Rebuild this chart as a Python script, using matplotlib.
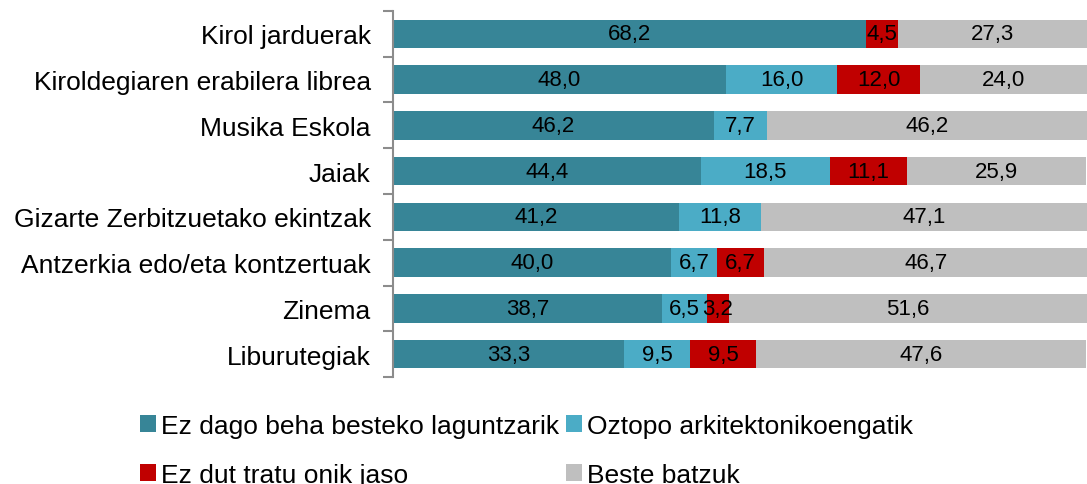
import numpy as np
import matplotlib.pyplot as plt

plt.rcParams['font.family'] = ['Liberation Sans', 'DejaVu Sans']

categories = ['Kirol jarduerak', 'Kiroldegiaren erabilera librea', 'Musika Eskola', 'Jaiak',
              'Gizarte Zerbitzuetako ekintzak', 'Antzerkia edo/eta kontzertuak', 'Zinema', 'Liburutegiak']
series_names = ['Ez dago beha besteko laguntzarik', 'Oztopo arkitektonikoengatik',
                'Ez dut tratu onik jaso', 'Beste batzuk']
laguntza = [68.2, 48.0, 46.2, 44.4, 41.2, 40.0, 38.7, 33.3]
oztopo = [0, 16.0, 7.7, 18.5, 11.8, 6.7, 6.5, 9.5]
tratu = [4.5, 12.0, 0, 11.1, 0, 6.7, 3.2, 9.5]
beste = [27.3, 24.0, 46.2, 25.9, 47.1, 46.7, 51.6, 47.6]
colors = ['#378597', '#4BACC6', '#C00000', '#BFBFBF']

fig = plt.figure(figsize=(10.87, 4.85), dpi=100)
ax = fig.add_axes([0.3616, 0.2206, 0.6384, 0.7547])

y = np.arange(len(categories))
left = np.zeros(len(categories))
handles = []
for name, vals, c in zip(series_names, [laguntza, oztopo, tratu, beste], colors):
    vals = np.array(vals)
    h = ax.barh(y, vals, left=left, height=0.62, color=c, label=name)
    handles.append(h)
    for yi, l, v in zip(y, left, vals):
        if v > 0:
            ax.text(l + v / 2, yi, f'{v:.1f}'.replace('.', ','), ha='center', va='center',
                    fontsize=16, color='black')
    left += vals

ax.set_xlim(0, 100)
ax.set_ylim(len(categories) - 0.5, -0.5)
ax.set_yticks(y)
ax.set_yticklabels(categories, fontsize=19)
ax.tick_params(axis='y', length=0, pad=16)
ax.set_yticks(np.arange(-0.5, len(categories)), minor=True)
ax.tick_params(axis='y', which='minor', length=7, width=1.5, color='#8c8c8c')
ax.set_xticks([])
for s in ['top', 'right', 'bottom']:
    ax.spines[s].set_visible(False)
ax.spines['left'].set_color('#8c8c8c')
ax.spines['left'].set_linewidth(1.5)

order = [0, 2, 1, 3]
fig.legend([handles[i] for i in order], [series_names[i] for i in order],
           loc='upper left', bbox_to_anchor=(0.129, 0.145), ncol=2, frameon=False,
           fontsize=19, handlelength=0.6, handleheight=0.6, handletextpad=0.2,
           columnspacing=0.25, labelspacing=0.95, borderaxespad=0, borderpad=0)

fig.savefig('out.png', dpi=100)
